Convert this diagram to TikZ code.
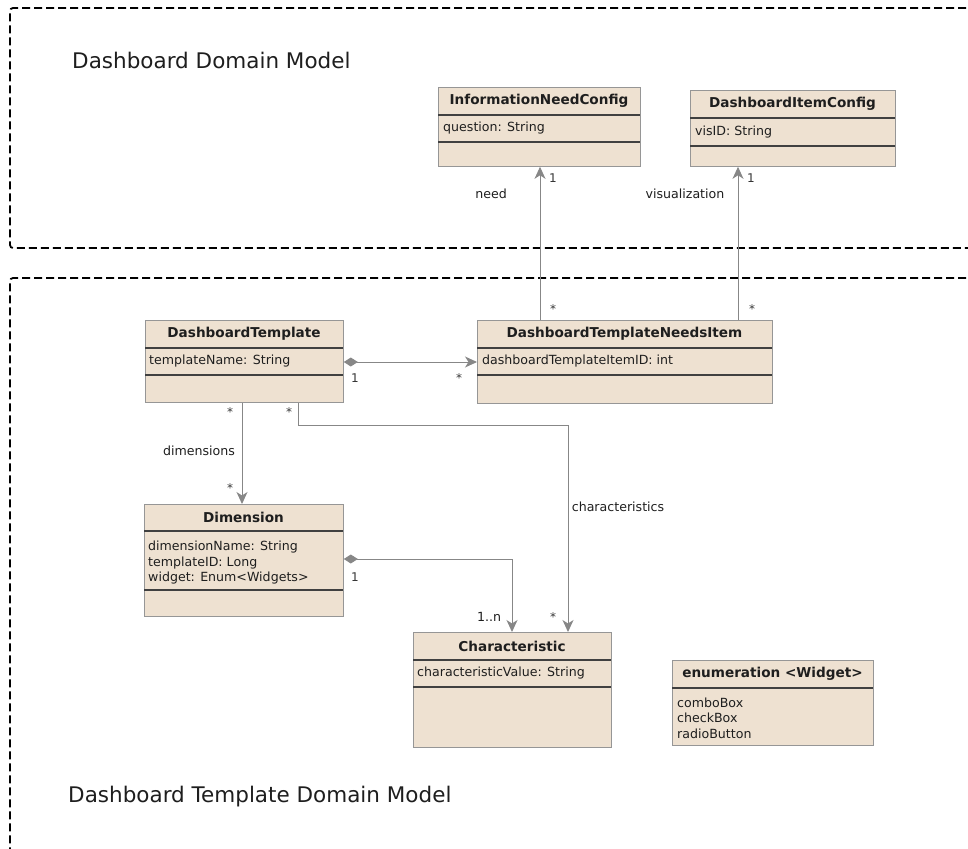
\documentclass[tikz,border=0pt]{standalone}
\usepackage{fontspec}
\setmainfont{DejaVu Sans}
\usetikzlibrary{arrows.meta,calc}
\definecolor{clsfill}{RGB}{238,225,209}
\definecolor{clsedge}{RGB}{150,150,150}
\definecolor{lnk}{RGB}{135,135,135}
\definecolor{txt}{RGB}{30,30,30}
\tikzset{
  cls/.style={draw=clsedge, fill=clsfill, line width=0.8pt, anchor=north west, inner sep=0pt},
  divider/.style={draw=black!75, line width=1.2pt},
  ctitle/.style={font=\fontsize{13.6}{15}\selectfont\bfseries, text=txt, inner sep=0pt},
  cattr/.style={font=\fontsize{12.6}{15.5}\selectfont, text=txt, anchor=west, inner sep=0pt, align=left},
  lbl/.style={font=\fontsize{12.6}{14}\selectfont, text=txt, inner sep=0pt},
  mult/.style={font=\fontsize{12}{13}\selectfont, text=txt!90, inner sep=0pt},
  tip/.tip={Stealth[length=12pt,width=11pt,inset=3.5pt,fill=lnk]},
  assoc/.style={draw=lnk, line width=1pt, -tip},
  comp/.style={draw=lnk, line width=1pt, {Diamond[length=14pt,width=9pt,fill=lnk]}-tip},
  pkg/.style={draw=black, line width=1.8pt, dash pattern=on 8pt off 4pt, rounded corners=3pt},
  pkgtitle/.style={font=\fontsize{21.5}{24}\selectfont, text=txt, anchor=west, inner sep=0pt}
}
\begin{document}
\begin{tikzpicture}[x=1pt,y=-1pt]
\useasboundingbox (0,0) rectangle (968,848);

% package frames (they run past the right and bottom edges)
\draw[pkg] (990,8) -- (10,8) -- (10,248) -- (990,248);
\draw[pkg] (990,278) -- (10,278) -- (10,870);
\node[pkgtitle] (pkgA) at (72,60) {Dashboard Domain Model};
\node[pkgtitle] (pkgB) at (68,797) {Dashboard Template Domain Model};

% InformationNeedConfig
\node[cls, minimum width=202, minimum height=79] (inc) at (438,87) {};
\draw[divider] (438,115) -- (640,115);
\draw[divider] (438,142) -- (640,142);
\node[ctitle] at (539,101) {InformationNeedConfig};
\node[cattr] at (443,128.5) {question: String};

% DashboardItemConfig
\node[cls, minimum width=205, minimum height=76] (dic) at (690,90) {};
\draw[divider] (690,118) -- (895,118);
\draw[divider] (690,146) -- (895,146);
\node[ctitle] at (792.5,104) {DashboardItemConfig};
\node[cattr] at (695,132) {visID: String};

% DashboardTemplate
\node[cls, minimum width=198, minimum height=82] (dt) at (145,320) {};
\draw[divider] (145,348) -- (343,348);
\draw[divider] (145,375) -- (343,375);
\node[ctitle] at (244,334) {DashboardTemplate};
\node[cattr] at (149,361.5) {templateName: String};

% DashboardTemplateNeedsItem
\node[cls, minimum width=295, minimum height=83] (dtni) at (477,320) {};
\draw[divider] (477,348) -- (772,348);
\draw[divider] (477,375) -- (772,375);
\node[ctitle] at (624.5,334) {DashboardTemplateNeedsItem};
\node[cattr] at (482,361.5) {dashboardTemplateItemID: int};

% Dimension
\node[cls, minimum width=199, minimum height=112] (dim) at (144,504) {};
\draw[divider] (144,531) -- (343,531);
\draw[divider] (144,590) -- (343,590);
\node[ctitle] at (243.5,517.5) {Dimension};
\node[cattr] at (148,563) {dimensionName: String\\templateID: Long\\widget: Enum<Widgets>};

% Characteristic
\node[cls, minimum width=198, minimum height=115] (chr) at (413,632) {};
\draw[divider] (413,660) -- (611,660);
\draw[divider] (413,687) -- (611,687);
\node[ctitle] at (512,646) {Characteristic};
\node[cattr] at (417,673.5) {characteristicValue: String};

% enumeration <Widget>
\node[cls, minimum width=201, minimum height=85] (wdg) at (672,660) {};
\draw[divider] (672,688) -- (873,688);
\node[ctitle] at (772.5,674) {enumeration <Widget>};
\node[cattr] at (677,718) {comboBox\\checkBox\\radioButton};

% need / visualization associations
\draw[assoc] (dtni.north -| 540,0) -- (inc.south -| 540,0);
\node[mult] at (553,178) {1};
\node[lbl] at (491,194) {need};
\node[mult] at (553,309) {*};
\draw[assoc] (dtni.north -| 738,0) -- (dic.south -| 738,0);
\node[mult] at (751,178) {1};
\node[lbl] at (685,194) {visualization};
\node[mult] at (752,309) {*};

% DashboardTemplate owns DashboardTemplateNeedsItem
\draw[comp] (dt.east |- 0,362) -- (dtni.west |- 0,362);
\node[mult] at (355,378) {1};
\node[mult] at (459,378) {*};

% dimensions
\draw[assoc] (dt.south -| 242,0) -- (dim.north -| 242,0);
\node[mult] at (230,412) {*};
\node[lbl] at (199,451) {dimensions};
\node[mult] at (230,488) {*};

% characteristics
\coordinate (bendA) at (298,425);
\coordinate (bendB) at (568,425);
\draw[assoc] (dt.south -| bendA) -- (bendA) -- (bendB) -- (chr.north -| bendB);
\node[mult] at (289,412) {*};
\node[lbl] at (618,507) {characteristics};
\node[mult] at (553,617) {*};

% Dimension owns Characteristic
\coordinate (bendC) at (512,559);
\draw[comp] (dim.east |- bendC) -- (bendC) -- (chr.north -| bendC);
\node[mult] at (355,577) {1};
\node[lbl] at (489,617) {1..n};
\end{tikzpicture}
\end{document}
